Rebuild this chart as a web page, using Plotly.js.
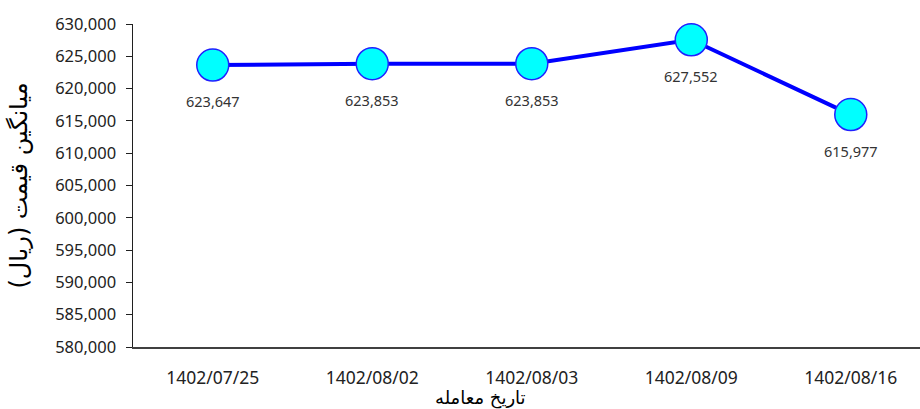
<!DOCTYPE html>
<html>
<head>
<meta charset="utf-8">
<script src="https://cdn.plot.ly/plotly-3.0.1.min.js"></script>
<style>html,body{margin:0;padding:0;background:#fff;}#chart{width:920px;height:409px;}</style>
</head>
<body>
<div id="chart"></div>
<script>
const dates = ["1402/07/25", "1402/08/02", "1402/08/03", "1402/08/09", "1402/08/16"];
const avgPrice = [623647, 623853, 623853, 627552, 615977];
const yTickVals = [580000, 585000, 590000, 595000, 600000, 605000, 610000, 615000, 620000, 625000, 630000];

const trace = {
  type: "scatter",
  mode: "lines+markers",
  x: dates,
  y: avgPrice,
  line: {color: "#0000FF", width: 4},
  marker: {size: 32, color: "#00FFFF", line: {color: "#2020FF", width: 1.5}},
  cliponaxis: false,
  hoverinfo: "skip"
};

const labelAnnotations = dates.map((d, i) => ({
  x: d, y: avgPrice[i], xref: "x", yref: "y",
  text: avgPrice[i].toLocaleString("en-US"),
  showarrow: false,
  yshift: -36,
  font: {family: "Noto Sans, sans-serif", size: 14.5, color: "#333333"}
}));

const layout = {
  width: 920,
  height: 409,
  margin: {l: 133, r: 0, t: 24, b: 62},
  paper_bgcolor: "#ffffff",
  plot_bgcolor: "#ffffff",
  showlegend: false,
  xaxis: {
    type: "category",
    range: [-0.5, 4.434],
    showgrid: false,
    zeroline: false,
    showline: true,
    linecolor: "#404040",
    linewidth: 2,
    ticks: "outside",
    ticklen: 14,
    tickcolor: "rgba(0,0,0,0)",
    tickfont: {family: "Noto Sans, sans-serif", size: 17.5, color: "#222222"}
  },
  yaxis: {
    range: [580000, 630000],
    tickvals: yTickVals,
    tickformat: ",",
    showgrid: false,
    zeroline: false,
    showline: true,
    linecolor: "#202020",
    linewidth: 1.5,
    ticks: "outside",
    ticklen: 6,
    tickcolor: "#202020",
    ticklabelstandoff: 6,
    tickfont: {family: "Noto Sans, sans-serif", size: 16.5, color: "#222222"},
    title: {text: "میانگین قیمت (ریال)", font: {family: "DejaVu Sans, sans-serif", size: 24, color: "#000000"}, standoff: 20}
  },
  annotations: labelAnnotations.concat([{
    text: "تاریخ معامله",
    xref: "paper", yref: "paper",
    x: 0.441, y: 0,
    xanchor: "center", yanchor: "top",
    yshift: -38,
    showarrow: false,
    font: {family: "DejaVu Sans, sans-serif", size: 18, color: "#000000"}
  }])
};

Plotly.newPlot("chart", [trace], layout, {displayModeBar: false, staticPlot: true});
</script>
</body>
</html>
